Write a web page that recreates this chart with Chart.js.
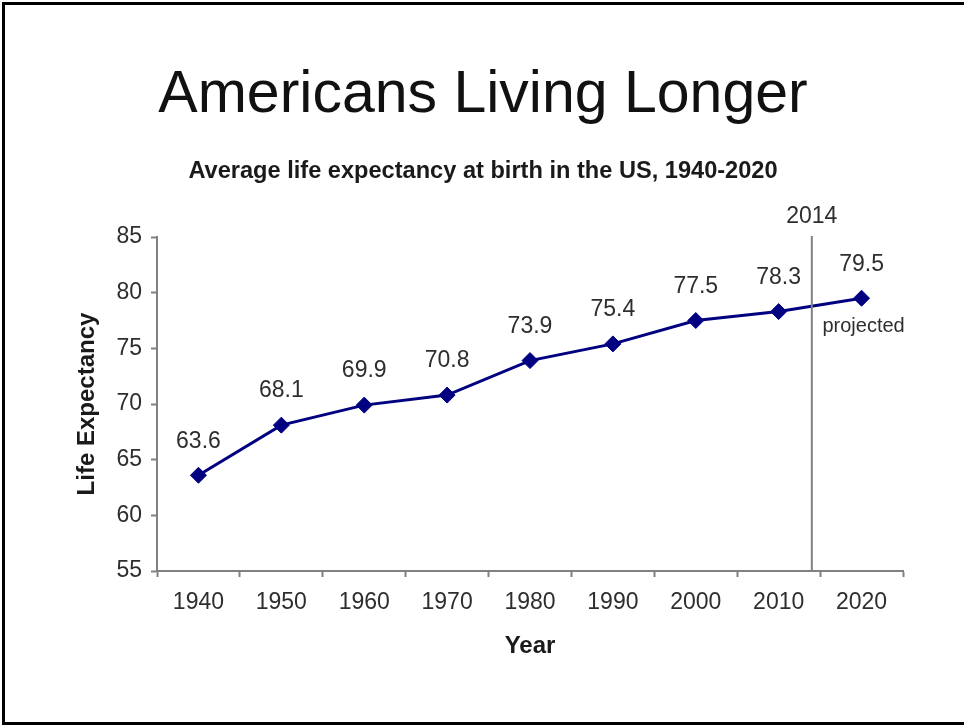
<!DOCTYPE html>
<html>
<head>
<meta charset="utf-8">
<title>Americans Living Longer</title>
<script src="https://cdn.jsdelivr.net/npm/chart.js@4/dist/chart.umd.min.js"></script>
<style>
  html, body { margin: 0; padding: 0; background: #fff; }
  #wrap { position: relative; width: 964px; height: 725px; overflow: hidden;
          font-family: "Liberation Sans", Arial, Helvetica, sans-serif; }
  #frame { position: absolute; left: 2px; top: 2px; width: 990px; height: 717px;
           border: 3px solid #000; border-right: none; }
  #chart { position: absolute; left: 0; top: 0; }
  .txt { position: absolute; white-space: nowrap; text-align: center; }
  #title { left: 0; width: 966px; top: 63px; font-size: 59px; line-height: 59px; color: #111; }
  #subtitle { left: 0; width: 966px; top: 159px; font-size: 23.6px; line-height: 23px; font-weight: bold; color: #1a1a1a; }
  #ytitle { left: -64px; width: 300px; top: 392px; font-size: 24px; line-height: 24px; font-weight: bold; color: #1a1a1a;
            transform: rotate(-90deg); transform-origin: 150px 12px; }
  #xtitle { left: 380px; width: 300px; top: 633px; font-size: 24px; line-height: 24px; font-weight: bold; color: #1a1a1a; }
</style>
</head>
<body>
<div id="wrap">
  <canvas id="chart" width="964" height="725"></canvas>
  <div id="frame"></div>
  <div class="txt" id="title">Americans Living Longer</div>
  <div class="txt" id="subtitle">Average life expectancy at birth in the US, 1940-2020</div>
  <div class="txt" id="ytitle">Life Expectancy</div>
  <div class="txt" id="xtitle">Year</div>
</div>
<script>
// Census years and average life expectancy at birth
const years = ['1940', '1950', '1960', '1970', '1980', '1990', '2000', '2010', '2020'];
const lifeExpectancy = [63.6, 68.1, 69.9, 70.8, 73.9, 75.4, 77.5, 78.3, 79.5];
const yTicks = [55, 60, 65, 70, 75, 80, 85];
const cutoffYear = 2014;          // values after this year are projections
const projectedNote = 'projected';

const FONT = '"Liberation Sans", Arial, Helvetica, sans-serif';
const NAVY = '#000080';
const AXIS_GREY = '#808080';
const LABEL_GREY = '#2e2e2e';

// Value labels above each point, the 2014 divider and the "projected" note
const annotations = {
  id: 'annotations',
  afterDatasetsDraw(chart) {
    const ctx = chart.ctx;
    const meta = chart.getDatasetMeta(0);
    const xs = chart.scales.x;
    const area = chart.chartArea;
    ctx.save();

    // divider line at the cutoff year, interpolated between the neighbouring decades
    const yrs = years.map(Number);
    let k = 0;
    while (k < yrs.length - 2 && yrs[k + 1] < cutoffYear) k++;
    const x0 = xs.getPixelForValue(k), x1 = xs.getPixelForValue(k + 1);
    const xc = x0 + (cutoffYear - yrs[k]) / (yrs[k + 1] - yrs[k]) * (x1 - x0);
    ctx.strokeStyle = AXIS_GREY;
    ctx.lineWidth = 2;
    ctx.beginPath();
    ctx.moveTo(xc, area.top - 1);
    ctx.lineTo(xc, area.bottom);
    ctx.stroke();

    ctx.fillStyle = LABEL_GREY;
    ctx.textAlign = 'center';
    ctx.textBaseline = 'middle';
    ctx.font = '23px ' + FONT;
    ctx.fillText(String(cutoffYear), xc, area.top - 20);

    // value labels
    ctx.font = '23px ' + FONT;
    meta.data.forEach((pt, i) => {
      ctx.fillText(lifeExpectancy[i].toFixed(1), pt.x, pt.y - 34);
    });

    // note under the projected value
    const last = meta.data[meta.data.length - 1];
    ctx.font = '20px ' + FONT;
    ctx.fillText(projectedNote, last.x + 2, last.y + 28);
    ctx.restore();
  }
};

new Chart(document.getElementById('chart'), {
  type: 'line',
  data: {
    labels: years,
    datasets: [{
      data: lifeExpectancy,
      borderColor: NAVY,
      backgroundColor: NAVY,
      borderWidth: 3,
      pointStyle: 'rectRot',
      pointRadius: 8,
      pointBorderWidth: 1,
      pointBorderColor: NAVY,
      pointBackgroundColor: NAVY,
      tension: 0,
      fill: false
    }]
  },
  options: {
    responsive: false,
    animation: false,
    devicePixelRatio: 1,
    layout: { padding: { top: 237, right: 61, left: 0, bottom: 0 } },
    plugins: {
      legend: { display: false },
      title: { display: false },
      tooltip: { enabled: false }
    },
    scales: {
      x: {
        type: 'category',
        offset: true,
        afterFit(scale) { scale.height = 154; },
        grid: {
          offset: true,
          drawOnChartArea: false,
          drawTicks: true,
          tickLength: 6,
          tickWidth: 2,
          color: AXIS_GREY
        },
        border: { display: true, color: AXIS_GREY, width: 2 },
        ticks: {
          color: LABEL_GREY,
          padding: 12,
          maxRotation: 0,
          font: { family: FONT, size: 23 }
        }
      },
      y: {
        type: 'linear',
        min: yTicks[0],
        max: yTicks[yTicks.length - 1],
        afterFit(scale) { scale.width = 157; },
        afterBuildTicks(scale) { scale.ticks = yTicks.map(v => ({ value: v })); },
        grid: {
          drawOnChartArea: false,
          drawTicks: true,
          tickLength: 6,
          tickWidth: 2,
          color: AXIS_GREY
        },
        border: { display: true, color: AXIS_GREY, width: 2 },
        ticks: {
          color: LABEL_GREY,
          padding: 9,
          font: { family: FONT, size: 23 }
        }
      }
    }
  },
  plugins: [annotations]
});
</script>
</body>
</html>
